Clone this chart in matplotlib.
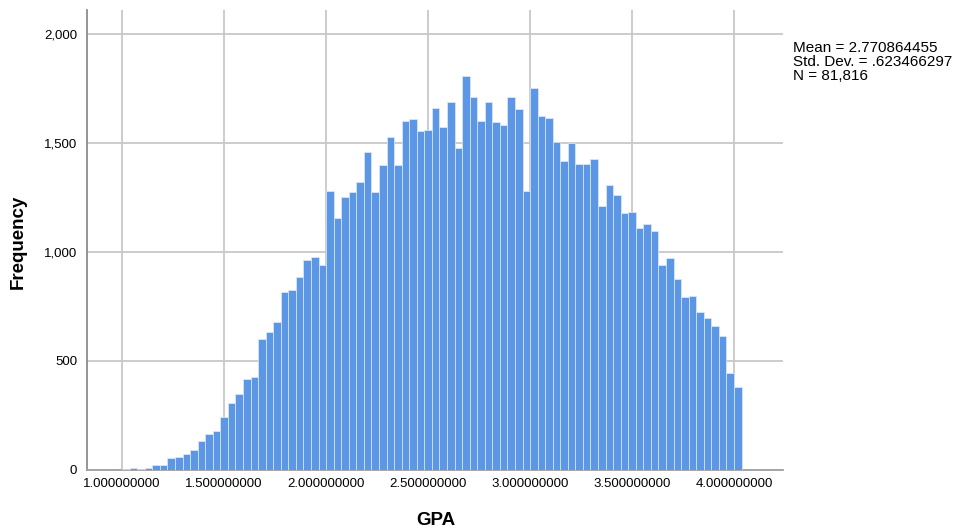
import numpy as np
import matplotlib
matplotlib.use('Agg')
from matplotlib import pyplot as plt

plt.rcParams['font.family'] = ['Liberation Sans', 'DejaVu Sans']

# GPA histogram counts, bins of width 1/27 starting at 1.0
binStart = 1.0
binWidth = 1.0 / 27
counts = [3, 8, 6, 11, 21, 21, 55, 58, 72, 94,
          135, 166, 181, 242, 307, 350, 416, 426, 603, 632,
          678, 815, 826, 885, 963, 977, 940, 1281, 1158, 1252,
          1276, 1319, 1460, 1273, 1399, 1529, 1399, 1601, 1610, 1557,
          1558, 1661, 1575, 1687, 1477, 1807, 1713, 1603, 1690, 1598,
          1581, 1710, 1656, 1282, 1753, 1624, 1613, 1503, 1417, 1500,
          1404, 1405, 1428, 1210, 1305, 1261, 1179, 1182, 1109, 1128,
          1095, 940, 971, 876, 792, 797, 725, 696, 659, 615,
          445, 382]
xTicks = [1.0, 1.5, 2.0, 2.5, 3.0, 3.5, 4.0]
yTicks = [0, 500, 1000, 1500, 2000]
statLines = ['Mean = 2.770864455', 'Std. Dev. = .623466297', 'N = 81,816']

lefts = binStart + np.arange(len(counts)) * binWidth

fig = plt.figure(figsize=(9.67, 5.31), dpi=100)
ax = fig.add_axes([87 / 967, 1 - 470 / 531, 696 / 967, 460 / 531])

ax.bar(lefts, counts, width=binWidth, align='edge', color='#5b97e4',
       edgecolor='#dfeafa', linewidth=0.5, zorder=3)

ax.set_xlim(0.828, 4.240)
ax.set_ylim(0, 2110)
ax.set_xticks(xTicks)
ax.set_xticklabels(['%.9f' % v for v in xTicks])
ax.set_yticks(yTicks)
ax.set_yticklabels(['{:,}'.format(v) for v in yTicks])
ax.grid(True, color='#c8c8c8', linewidth=1.3, zorder=0)
ax.tick_params(length=0, labelsize=9.5, colors='black')
ax.tick_params(axis='y', pad=7)
ax.tick_params(axis='x', pad=6)

for s in ['top', 'right']:
    ax.spines[s].set_visible(False)
ax.spines['left'].set_color('#8c8c8c')
ax.spines['left'].set_linewidth(1.3)
ax.spines['bottom'].set_color('#a0a0a0')
ax.spines['bottom'].set_linewidth(1.3)

ax.set_ylabel('Frequency', fontsize=13.5, fontweight='bold')
ax.set_xlabel('GPA', fontsize=13.5, fontweight='bold')
ax.yaxis.set_label_coords(-0.099, 0.496)
ax.xaxis.set_label_coords(0.501, -0.109)
ax.xaxis.label.set_va('center')
ax.yaxis.label.set_va('center')

for k, line in enumerate(statLines):
    fig.text(793 / 967, 1 - (52.3 + 14 * k) / 531, line, fontsize=11,
             ha='left', va='baseline')

fig.savefig('out.png', dpi=100)
